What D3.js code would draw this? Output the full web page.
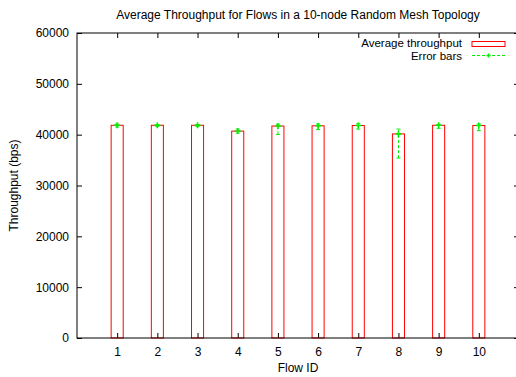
<!DOCTYPE html>
<html>
<head>
<meta charset="utf-8">
<script src="https://cdn.jsdelivr.net/npm/d3@7"></script>
<style>
  body { margin: 0; background: #fff; }
  text { font-family: "Liberation Sans", Arial, sans-serif; font-size: 12px; fill: #000; }
</style>
</head>
<body>
<div id="chart"></div>
<script>
// Flow IDs and measured throughput (bps)
var flows = [1, 2, 3, 4, 5, 6, 7, 8, 9, 10];
var throughput = [41850, 41850, 41850, 40700, 41700, 41750, 41800, 40150, 41850, 41800];
var errLow = [41500, 41600, 41600, 40300, 40050, 41000, 41100, 35400, 41250, 40800];
var errHigh = [42100, 42000, 42000, 41100, 42050, 42100, 42150, 41100, 42050, 42100];
var yTicks = [0, 10000, 20000, 30000, 40000, 50000, 60000];
var xTicks = [1, 2, 3, 4, 5, 6, 7, 8, 9, 10];

var margin = { top: 33, right: -3, bottom: 39, left: 77 },
    width = 516 - margin.left - margin.right,
    height = 377 - margin.top - margin.bottom;

var svg = d3.select("#chart")
    .append("svg")
    .attr("width", 516)
    .attr("height", 377)
    .style("overflow", "hidden");

var g = svg.append("g")
    .attr("transform", "translate(" + margin.left + "," + margin.top + ")");

var x = d3.scaleLinear().domain([0, 11]).range([0, width]);
var y = d3.scaleLinear().domain([0, 60000]).range([height, 0]);
var green = "#00ee00";

var data = flows.map(function(f, i) {
    return { id: f, v: throughput[i], lo: errLow[i], hi: errHigh[i] };
});

// Title
svg.append("text")
    .attr("x", margin.left + width / 2)
    .attr("y", 19)
    .attr("text-anchor", "middle")
    .text("Average Throughput for Flows in a 10-node Random Mesh Topology");

// Axes (ticks inward, gnuplot style)
g.append("g")
    .attr("transform", "translate(0," + height + ")")
    .call(d3.axisBottom(x).tickValues(xTicks).tickSizeInner(-5).tickSizeOuter(0).tickPadding(9))
    .call(function(a) { a.select(".domain").remove(); });

g.append("g")
    .call(d3.axisTop(x).tickValues(xTicks).tickSizeInner(-5).tickSizeOuter(0).tickFormat(""))
    .call(function(a) { a.select(".domain").remove(); });

g.append("g")
    .call(d3.axisLeft(y).tickValues(yTicks).tickFormat(d3.format("d")).tickSizeInner(-5).tickSizeOuter(0).tickPadding(8))
    .call(function(a) { a.select(".domain").remove(); });

g.append("g")
    .attr("transform", "translate(" + width + ",0)")
    .call(d3.axisRight(y).tickValues(yTicks).tickSizeInner(-5).tickSizeOuter(0).tickFormat(""))
    .call(function(a) { a.select(".domain").remove(); });

g.selectAll(".tick text").style("font-size", "12px").style("font-family", "Liberation Sans, Arial, sans-serif");
g.selectAll(".tick line").attr("stroke", "#000");

// Bars (empty boxes)
var bw = 0.3;
g.selectAll("rect.bar")
    .data(data)
    .enter().append("rect")
    .attr("class", "bar")
    .attr("x", function(d) { return x(d.id - bw / 2); })
    .attr("y", function(d) { return y(d.v); })
    .attr("width", function(d) { return x(d.id + bw / 2) - x(d.id - bw / 2); })
    .attr("height", function(d) { return y(0) - y(d.v); })
    .attr("fill", "none")
    .attr("stroke", "#ff0000")
    .attr("stroke-width", 1);

// Error bars
var eb = g.selectAll("g.err").data(data).enter().append("g").attr("class", "err");
eb.append("line")
    .attr("x1", function(d) { return x(d.id); })
    .attr("x2", function(d) { return x(d.id); })
    .attr("y1", function(d) { return y(d.lo); })
    .attr("y2", function(d) { return y(d.hi); })
    .attr("stroke", green)
    .attr("stroke-dasharray", "3,2");
["lo", "hi"].forEach(function(k) {
    eb.append("line")
        .attr("x1", function(d) { return x(d.id) - 2; })
        .attr("x2", function(d) { return x(d.id) + 2; })
        .attr("y1", function(d) { return y(d[k]); })
        .attr("y2", function(d) { return y(d[k]); })
        .attr("stroke", green);
});
eb.append("path")
    .attr("d", function(d) {
        var cx = x(d.id), cy = y(d.v);
        return "M" + (cx - 3) + "," + cy + "H" + (cx + 3) + "M" + cx + "," + (cy - 3) + "V" + (cy + 3);
    })
    .attr("stroke", green)
    .attr("stroke-width", 1.5);

// Border
g.append("rect")
    .attr("x", 0).attr("y", 0)
    .attr("width", width).attr("height", height)
    .attr("fill", "none")
    .attr("stroke", "#000")
    .attr("stroke-width", 1);

// Axis labels
svg.append("text")
    .attr("x", margin.left + width / 2)
    .attr("y", 372)
    .attr("text-anchor", "middle")
    .text("Flow ID");

svg.append("text")
    .attr("transform", "translate(18," + (margin.top + height / 2) + ") rotate(-90)")
    .attr("text-anchor", "middle")
    .text("Throughput (bps)");

// Legend
var lg = svg.append("g").style("font-size", "11.5px");
lg.append("text").attr("x", 462).attr("y", 47).attr("text-anchor", "end").style("font-size", "11.5px").text("Average throughput");
lg.append("rect").attr("x", 472).attr("y", 41.5).attr("width", 33).attr("height", 5)
    .attr("fill", "none").attr("stroke", "#ff0000");
lg.append("text").attr("x", 462).attr("y", 60).attr("text-anchor", "end").style("font-size", "11.5px").text("Error bars");
lg.append("line").attr("x1", 472).attr("x2", 505).attr("y1", 55.5).attr("y2", 55.5)
    .attr("stroke", green).attr("stroke-dasharray", "3,2");
lg.append("path").attr("d", "M488.5,53.5V57.5M486.5,55.5H490.5").attr("stroke", green).attr("stroke-width", 1.5);
</script>
</body>
</html>
